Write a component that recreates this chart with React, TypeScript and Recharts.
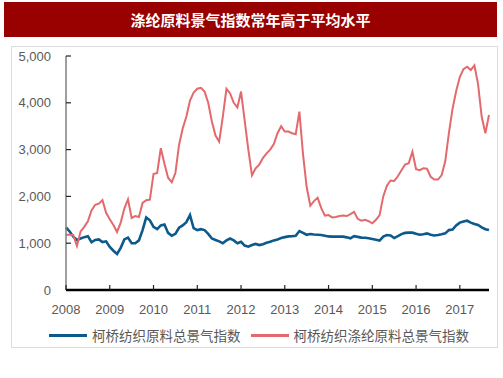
import React from 'react';
import { LineChart, Line, XAxis, YAxis } from 'recharts';

// monthly, Jan 2008 .. Sep 2017
const startYear = 2008;
const yearTicks = [2008, 2009, 2010, 2011, 2012, 2013, 2014, 2015, 2016, 2017];
const valueTicks = [0, 1000, 2000, 3000, 4000, 5000];

const totalIndex = [
  1340, 1250, 1140, 1070, 1100, 1130, 1150, 1020, 1070, 1080, 1025, 1040,
  920, 840, 770, 900, 1080, 1120, 1000, 1000, 1060, 1280, 1550, 1490,
  1350, 1300, 1380, 1400, 1220, 1160, 1200, 1330, 1380, 1450, 1600, 1320,
  1280, 1300, 1280, 1200, 1100, 1070, 1040, 1000, 1060, 1100, 1060, 1000,
  1030, 950, 925, 960, 985, 960, 980, 1010, 1030, 1060, 1080, 1110,
  1130, 1145, 1150, 1160, 1260, 1220, 1180, 1195, 1185, 1180, 1175, 1160,
  1145, 1140, 1140, 1140, 1140, 1125, 1105, 1150, 1135, 1120, 1115, 1105,
  1090, 1075, 1055, 1140, 1175, 1165, 1110, 1150, 1195, 1220, 1225, 1225,
  1200, 1180, 1190, 1210, 1180, 1165, 1175, 1190, 1210, 1280, 1290, 1380,
  1440, 1465, 1480, 1440, 1410, 1390, 1340, 1300, 1280,
];

const polyesterIndex = [
  1180, 1180, 1170, 940, 1250, 1350, 1470, 1700, 1820, 1845, 1920, 1650,
  1510, 1390, 1240, 1440, 1740, 1940, 1540, 1580, 1560, 1860, 1920, 1930,
  2480, 2500, 3030, 2700, 2400, 2300, 2500, 3100, 3450, 3700, 4050, 4220,
  4300, 4320, 4240, 4000, 3600, 3300, 3170, 3700, 4300, 4200, 4000, 3900,
  4240, 3620, 3000, 2450, 2600, 2680, 2820, 2920, 3000, 3120, 3350, 3500,
  3385, 3385, 3350, 3330, 3810, 2900, 2200, 1800, 1900, 1970, 1750, 1590,
  1600, 1550, 1560, 1580, 1590, 1580, 1620, 1670, 1520, 1480, 1500, 1470,
  1425, 1500, 1600, 2000, 2230, 2340, 2330, 2430, 2560, 2680, 2710, 2955,
  2580, 2560, 2600, 2590, 2420, 2360, 2360, 2450, 2750, 3350, 3870, 4250,
  4550, 4720, 4770, 4700, 4800, 4400, 3700, 3350, 3740,
];

const seriesNames = ['柯桥纺织原料总景气指数', '柯桥纺织涤纶原料总景气指数'];
const blue = '#0c5a8c';
const red = '#e4696c';

const data = totalIndex.map((v, i) => ({
  t: startYear + i / 12,
  total: v,
  polyester: polyesterIndex[i],
}));

const tickFont = { fontFamily: '"Liberation Sans", Arial, sans-serif', fontSize: 13, fill: '#595959' };
const cjk = '"Noto Sans CJK SC", sans-serif';

export default function App() {
  return (
    <div style={{ position: 'absolute', left: 0, top: 0, width: 503, height: 378, background: '#fff' }}>
      {/* title bar */}
      <div
        style={{
          position: 'absolute', left: 4, top: 2, width: 493, height: 35, background: '#990000',
          color: '#fff', fontFamily: cjk, fontWeight: 700, fontSize: 15,
          display: 'flex', alignItems: 'center', justifyContent: 'center',
        }}
      >
        涤纶原料景气指数常年高于平均水平
      </div>

      {/* chart frame */}
      <div style={{ position: 'absolute', left: 11, top: 46, width: 485, height: 300, border: '1px solid #dcdcdc' }} />

      <div style={{ position: 'absolute', left: 0, top: 0 }}>
        <LineChart width={503} height={378} data={data} margin={{ top: 56, right: 14, bottom: 0, left: 0 }}>
          <YAxis
            width={66}
            domain={[0, 5000]}
            ticks={valueTicks}
            tickFormatter={(v: number) => v.toLocaleString('en-US')}
            tick={tickFont}
            axisLine={{ stroke: '#7f7f7f', strokeWidth: 1.5 }}
            tickLine={{ stroke: '#222', strokeWidth: 1.2 }}
            tickSize={-5}
            tickMargin={20}
          />
          <XAxis
            dataKey="t"
            type="number"
            height={88}
            domain={[startYear, startYear + (totalIndex.length - 1) / 12]}
            ticks={yearTicks}
            tickFormatter={(v: number) => String(v)}
            tick={tickFont}
            axisLine={{ stroke: '#000', strokeWidth: 2.5 }}
            tickLine={{ stroke: '#222', strokeWidth: 1.2 }}
            tickSize={-5}
            tickMargin={20}
          />
          <Line dataKey="total" type="linear" stroke={blue} strokeWidth={2.6} dot={false} isAnimationActive={false} />
          <Line dataKey="polyester" type="linear" stroke={red} strokeWidth={2} dot={false} isAnimationActive={false} />
        </LineChart>
      </div>

      {/* legend */}
      <div
        style={{
          position: 'absolute', left: 49, top: 325, height: 20, display: 'flex', alignItems: 'center',
          fontFamily: cjk, fontSize: 13.5, color: '#595959', whiteSpace: 'nowrap',
        }}
      >
        <span style={{ display: 'inline-block', width: 38, height: 3, background: blue, marginRight: 5 }} />
        <span>{seriesNames[0]}</span>
        <span style={{ display: 'inline-block', width: 38, height: 3, background: red, marginLeft: 10, marginRight: 5 }} />
        <span>{seriesNames[1]}</span>
      </div>
    </div>
  );
}
